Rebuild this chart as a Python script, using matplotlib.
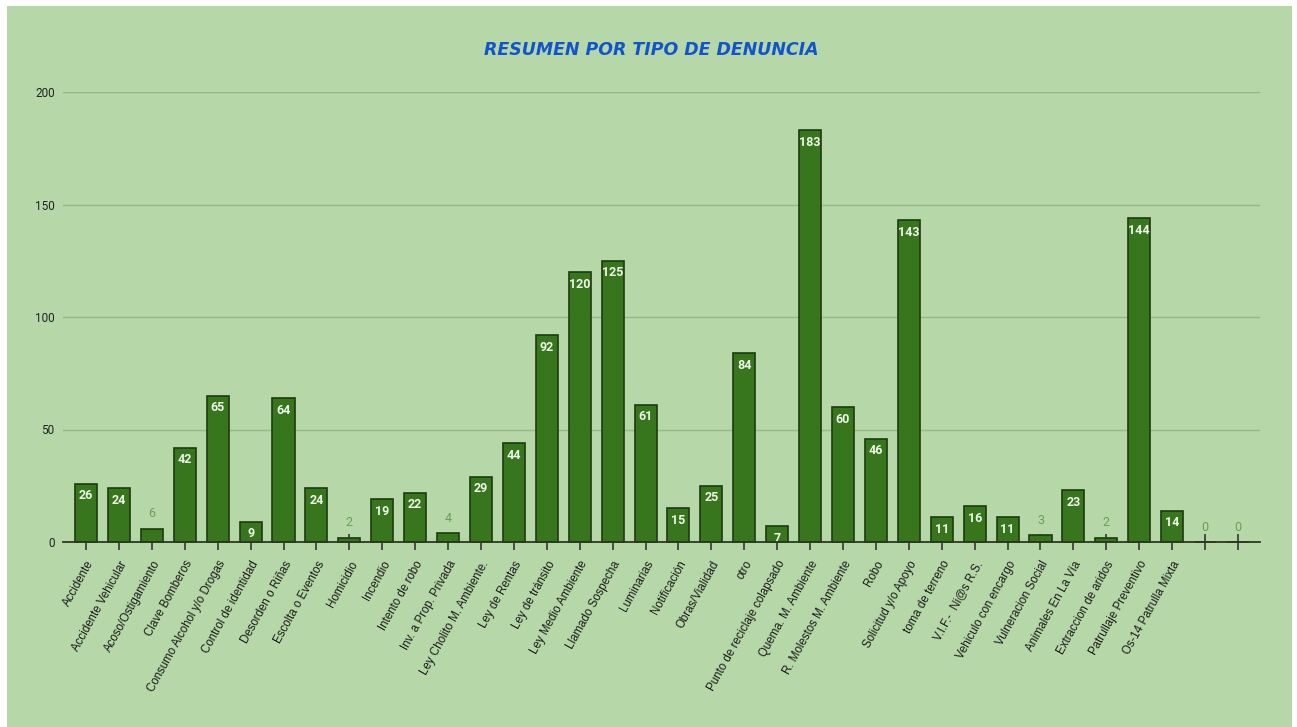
import numpy as np
import matplotlib.pyplot as plt
from matplotlib.patches import Rectangle

categorias = [
    "Accidente", "Accidente Vehicular", "Acoso/Ostigamiento", "Clave Bomberos",
    "Consumo Alcohol y/o Drogas", "Control de identidad", "Desorden o Riñas",
    "Escolta o Eventos", "Homicidio", "Incendio", "Intento de robo",
    "Inv. a Prop. Privada", "Ley Cholito M. Ambiente.", "Ley de Rentas",
    "Ley de tránsito", "Ley Medio Ambiente", "Llamado Sospecha", "Luminarias",
    "Notificación", "Obras/Vialidad", "otro", "Punto de reciclaje colapsado",
    "Quema. M. Ambiente", "R. Molestos M. Ambiente", "Robo", "Solicitud y/o Apoyo",
    "toma de terreno", "V.I.F.-  Ni@s R.S.", "Vehiculo con encargo",
    "Vulneracion Social", "Animales En La Vía", "Extraccion de aridos",
    "Patrullaje Preventivo", "Os-14 Patrulla Mixta", "", "",
]
valores = [26, 24, 6, 42, 65, 9, 64, 24, 2, 19, 22, 4, 29, 44, 92, 120, 125, 61,
           15, 25, 84, 7, 183, 60, 46, 143, 11, 16, 11, 3, 23, 2, 144, 14, 0, 0]
yticks = [0, 50, 100, 150, 200]

fondo = "#b6d7a8"
verde = "#38761d"

plt.rcParams['font.family'] = ['Roboto', 'DejaVu Sans']

fig = plt.figure(figsize=(12.97, 7.27), dpi=100)
fig.patch.set_facecolor("white")
fig.patches.append(Rectangle((7/1297, 0), 1285/1297, 721/727, transform=fig.transFigure,
                             facecolor=fondo, edgecolor="none", zorder=-10))

ax = fig.add_axes([63/1297, 185/727, 1197/1297, 450/727])
ax.set_facecolor("none")

x = np.arange(len(categorias))
bars = ax.bar(x, valores, width=0.67, color=verde, edgecolor="#1e3a10",
              linewidth=1.2, zorder=3, clip_on=False)

for xi, v in zip(x, valores):
    if v >= 7:
        ax.annotate(str(v), (xi, v), xytext=(0, -4), textcoords="offset points",
                    ha="center", va="top", fontsize=9, color="#eef5ea",
                    fontweight="bold", zorder=4)
    else:
        ax.annotate(str(v), (xi, v), xytext=(0, 6), textcoords="offset points",
                    ha="center", va="bottom", fontsize=9, color="#6a9f57", zorder=4)

ax.set_xlim(-0.7, len(categorias) - 0.33)
ax.set_ylim(0, 200)
ax.set_yticks(yticks)
ax.set_yticklabels([str(t) for t in yticks], fontsize=8.5, color="#222222")
ax.tick_params(axis="y", length=0, pad=6)
ax.grid(axis="y", color="#93b985", linewidth=1.0, zorder=0)
ax.set_axisbelow(True)

ax.set_xticks(x)
ax.set_xticklabels(categorias, rotation=61, ha="right", rotation_mode="anchor",
                   fontsize=8.3, color="#1a1a1a", family=["Liberation Sans"])
ax.tick_params(axis="x", direction="inout", length=12, width=1.1, color="#2a2a2a", pad=6)

for s in ["top", "right", "left"]:
    ax.spines[s].set_visible(False)
ax.spines["bottom"].set_color("#2a3a22")
ax.spines["bottom"].set_linewidth(1.3)
ax.spines["bottom"].set_zorder(5)

fig.text(651/1297, 1 - 50/727, "RESUMEN POR TIPO DE DENUNCIA", ha="center", va="center",
         fontsize=12.5, color="#1155cc", fontstyle="italic", fontweight="bold",
         family=["DejaVu Sans"])

fig.savefig("out.png", dpi=100)
